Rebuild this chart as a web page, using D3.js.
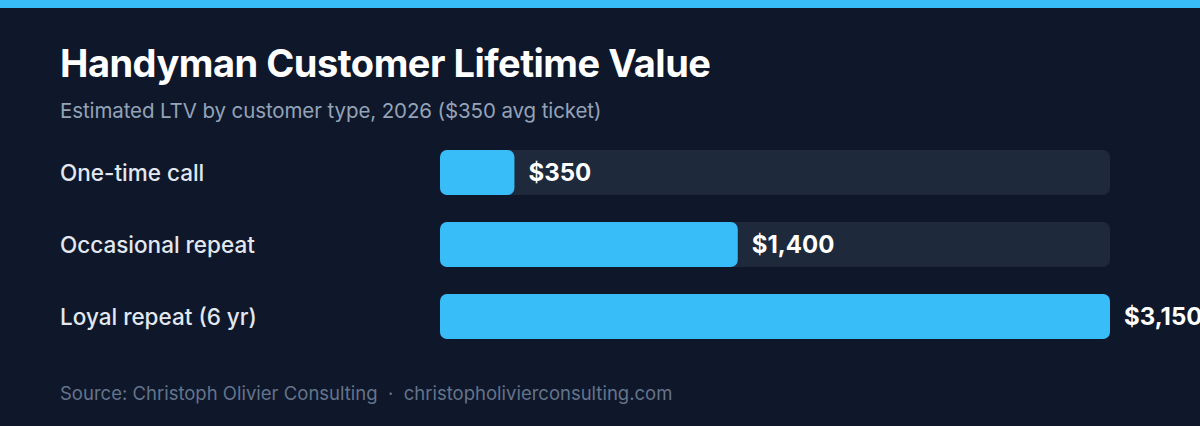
<!DOCTYPE html>
<html>
<head>
<meta charset="utf-8">
<script src="https://cdn.jsdelivr.net/npm/d3@7"></script>
<style>
  html, body { margin: 0; padding: 0; background: #0f172a; overflow: hidden; }
  svg { display: block; font-family: Inter, "Noto Sans", sans-serif; }
</style>
</head>
<body>
<div id="chart"></div>
<script>
const categories = ['One-time call', 'Occasional repeat', 'Loyal repeat (6 yr)'];
const values = [350, 1400, 3150];
const valueLabels = ['$350', '$1,400', '$3,150'];

const TITLE = 'Handyman Customer Lifetime Value';
const SUBTITLE = 'Estimated LTV by customer type, 2026 ($350 avg ticket)';
const SOURCE = 'Source: Christoph Olivier Consulting  \u00b7  christopholivierconsulting.com';

function app() {
  const W = 1200;
  const H = 426;
  const BAR_X0 = 440;
  const BAR_X1 = 1110;
  const BAR_TOP = 150;
  const STEP = 72;
  const BAR_H = 45;
  const PAD = (STEP - BAR_H) / STEP;

  const svg = d3.select('#chart')
    .append('svg')
    .attr('width', W)
    .attr('height', H);

  svg.append('rect')
    .attr('width', W).attr('height', H)
    .attr('fill', '#0f172a');

  svg.append('rect')
    .attr('width', W).attr('height', 8)
    .attr('fill', '#38bdf8');

  svg.append('text')
    .attr('x', 60).attr('y', 77)
    .attr('fill', '#ffffff')
    .attr('font-size', 38)
    .attr('font-weight', 700)
    .attr('letter-spacing', -0.5)
    .text(TITLE);

  svg.append('text')
    .attr('x', 60).attr('y', 117.5)
    .attr('fill', '#94a3b8')
    .attr('font-size', 20.5)
    .attr('letter-spacing', -0.1)
    .text(SUBTITLE);

  const x = d3.scaleLinear()
    .domain([0, d3.max(values)])
    .range([BAR_X0, BAR_X1]);

  const y = d3.scaleBand()
    .domain(categories)
    .range([BAR_TOP, BAR_TOP + STEP * categories.length])
    .paddingInner(PAD)
    .paddingOuter(PAD / 2)
    .align(0);

  const rows = svg.selectAll('g.row')
    .data(categories)
    .enter()
    .append('g')
    .attr('class', 'row')
    .attr('transform', (d) => `translate(0,${y(d)})`);

  rows.append('rect')
    .attr('x', BAR_X0)
    .attr('width', BAR_X1 - BAR_X0)
    .attr('height', y.bandwidth())
    .attr('rx', 7)
    .attr('fill', '#1e293b');

  rows.append('rect')
    .attr('x', BAR_X0)
    .attr('width', (d, i) => x(values[i]) - BAR_X0)
    .attr('height', y.bandwidth())
    .attr('rx', 7)
    .attr('fill', '#38bdf8');

  rows.append('text')
    .attr('x', 60)
    .attr('y', y.bandwidth() / 2 + 8.5)
    .attr('fill', '#e2e8f0')
    .attr('font-size', 22.5)
    .attr('font-weight', 500)
    .text((d) => d);

  rows.append('text')
    .attr('x', (d, i) => x(values[i]) + 14)
    .attr('y', y.bandwidth() / 2 + 8)
    .attr('fill', '#ffffff')
    .attr('font-size', 24)
    .attr('font-weight', 700)
    .text((d, i) => valueLabels[i]);

  svg.append('text')
    .attr('x', 60).attr('y', 400)
    .attr('fill', '#64748b')
    .attr('font-size', 18.5)
    .attr('xml:space', 'preserve')
    .style('white-space', 'pre')
    .text(SOURCE);
}

app();
</script>
</body>
</html>
